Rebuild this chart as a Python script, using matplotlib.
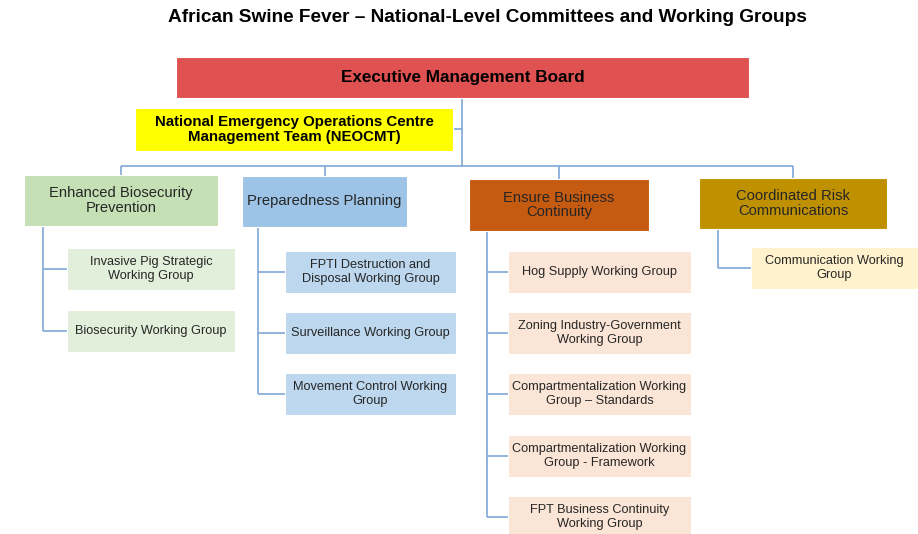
# ASF national-level committees org chart
import matplotlib.pyplot as plt
from matplotlib.patches import Rectangle

plt.rcParams['font.family'] = ['Liberation Sans', 'DejaVu Sans']

# chart content
title = "African Swine Fever \u2013 National-Level Committees and Working Groups"
board = "Executive Management Board"
neocmt = "National Emergency Operations Centre\nManagement Team (NEOCMT)"

pillars = [
    "Enhanced Biosecurity\nPrevention",
    "Preparedness Planning",
    "Ensure Business\nContinuity",
    "Coordinated Risk\nCommunications",
]

groups_biosecurity = [
    "Invasive Pig Strategic\nWorking Group",
    "Biosecurity Working Group",
]
groups_preparedness = [
    "FPTI Destruction and\nDisposal Working Group",
    "Surveillance Working Group",
    "Movement Control Working\nGroup",
]
groups_business = [
    "Hog Supply Working Group",
    "Zoning Industry-Government\nWorking Group",
    "Compartmentalization Working\nGroup \u2013 Standards",
    "Compartmentalization Working\nGroup - Framework",
    "FPT Business Continuity\nWorking Group",
]
groups_comms = [
    "Communication Working\nGroup",
]
groups = [groups_biosecurity, groups_preparedness, groups_business, groups_comms]

# layout (pixel coords)
pillar_colors = ["#C5E0B4", "#9DC3E6", "#C55A11", "#BF9000"]
child_colors = ["#E2EFDA", "#BDD7EE", "#FBE5D6", "#FFF2CC"]
pillar_boxes = [(24, 175, 194, 51), (242, 176, 165, 51),
                (469, 179, 180, 52), (699, 178, 188, 51)]
child_x = [(67, 168), (285, 171), (508, 183), (751, 167)]
spine_x = [43, 258, 487, 718]
child_top = [[248, 310], [251, 312, 373], [251, 312, 373, 435, 496], [247]]
child_h = 42
line_c = "#7FA7D6"
text_c = "#262626"

fig = plt.figure(figsize=(9.18, 5.34), dpi=100)
ax = fig.add_axes([0, 0, 1, 1])
ax.set_xlim(0, 918)
ax.set_ylim(534, 0)
ax.axis("off")


def box(x, y, w, h, fc, label, size, bold=False, spacing=1.08):
    ax.add_patch(Rectangle((x, y), w, h, facecolor=fc, edgecolor="#FFFFFF",
                           linewidth=0.8, zorder=2))
    ax.text(x + w / 2, y + h / 2, label, ha="center", va="center",
            fontsize=size, color="black" if bold else text_c,
            fontweight="bold" if bold else "normal", linespacing=spacing,
            zorder=3)


def line(xs, ys):
    ax.plot(xs, ys, color=line_c, linewidth=1.2, zorder=1,
            solid_capstyle="butt")


ax.text(487, 17, title, ha="center", va="center", fontsize=13.7,
        fontweight="bold")

# top levels
bus_y = 166
line([462, 462], [98, bus_y])
line([453, 462], [129, 129])
line([121, 793], [bus_y, bus_y])
box(176, 57, 573, 41, "#E05252", board, 12.3, bold=True)
box(135, 108, 318, 43, "#FFFF00", neocmt, 10.8, bold=True)

for i, name in enumerate(pillars):
    x, y, w, h = pillar_boxes[i]
    line([x + w / 2, x + w / 2], [bus_y, y])
    box(x, y, w, h, pillar_colors[i], name, 10.6)

    tops = child_top[i]
    cx, cw = child_x[i]
    last_mid = tops[-1] + child_h / 2
    line([spine_x[i], spine_x[i]], [y + h, last_mid])
    for j, label in enumerate(groups[i]):
        mid = tops[j] + child_h / 2
        line([spine_x[i], cx], [mid, mid])
        box(cx, tops[j], cw, child_h, child_colors[i], label, 9.2,
            spacing=1.16)

fig.savefig("out.png", dpi=100)
